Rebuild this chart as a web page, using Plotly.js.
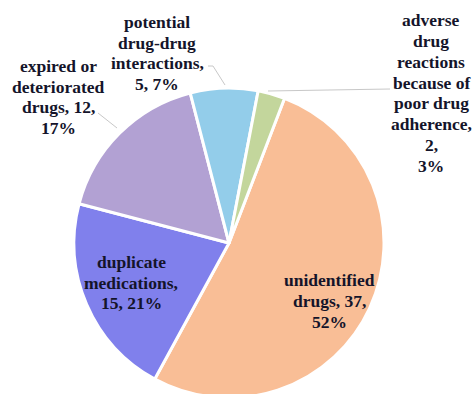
<!DOCTYPE html>
<html>
<head>
<meta charset="utf-8">
<script src="https://cdn.plot.ly/plotly-3.0.1.min.js"></script>
<style>
html,body{margin:0;padding:0;background:#fff;overflow:hidden;}
#chart{width:475px;height:402px;}
</style>
</head>
<body>
<div id="chart"></div>
<script>
// Data
const categories = ["unidentified drugs", "duplicate medications", "expired or deteriorated drugs", "potential drug-drug interactions", "adverse drug reactions because of poor drug adherence"];
const counts = [37, 15, 12, 5, 2];
// label line layout (VAL = count, PCT = percent)
const labelLines = [
  ["unidentified", "drugs, VAL,", "PCT"],
  ["duplicate", "medications,", "VAL, PCT"],
  ["expired or", "deteriorated", "drugs, VAL,", "PCT"],
  ["potential", "drug-drug", "interactions,", "VAL, PCT"],
  ["adverse", "drug", "reactions", "because of", "poor drug", "adherence,", "VAL,", "PCT"]
];
const colors = ["#F9BE96", "#8080EC", "#B2A1D3", "#93CDEA", "#C3D69C"];

const W = 475, H = 402;
const total = counts.reduce((a, b) => a + b, 0);
const fx = x => x / W;
const fy = y => 1 - y / H;

const font = {family: "Liberation Serif, Times New Roman, serif", size: 17.5, color: "#14142A", weight: "bold"};
const lineGap = 20.8;

// label placements (pixel layout: block centers)
const labelPos = [[329, 301], [131, 282.5], [58, 97], [157, 53], [431, 93]];
const leaders = [
  [98, 113, 117, 128],
  [208, 66, 213, 66],
  [213, 66, 225, 85],
  [268, 91, 390, 89]
];

const annotations = [];
categories.forEach((c, i) => {
  const pct = Math.round(counts[i] / total * 100) + "%";
  const lines = labelLines[i];
  const n = lines.length;
  lines.forEach((s, k) => {
    annotations.push({
      xref: "paper", yref: "paper",
      x: fx(labelPos[i][0]), y: fy(labelPos[i][1] + (k - (n - 1) / 2) * lineGap),
      xanchor: "center", yanchor: "middle",
      text: "<b>" + s.replace("VAL", counts[i]).replace("PCT", pct) + "</b>",
      showarrow: false, align: "center", font: font
    });
  });
});

const shapes = leaders.map(l => ({
  type: "line", xref: "paper", yref: "paper",
  x0: fx(l[0]), y0: fy(l[1]), x1: fx(l[2]), y1: fy(l[3]),
  line: {color: "#C8C8C8", width: 1}
}));

const trace = {
  type: "pie",
  labels: categories,
  values: counts,
  sort: false,
  direction: "clockwise",
  rotation: 21,
  marker: {colors: colors, line: {color: "#FFFFFF", width: 3}},
  textinfo: "none",
  hoverinfo: "none",
  showlegend: false,
  domain: {x: [fx(229 - 155), fx(229 + 155)], y: [fy(243 + 155), fy(243 - 155)]}
};

const layout = {
  width: W, height: H,
  margin: {l: 0, r: 0, t: 0, b: 0},
  paper_bgcolor: "#FFFFFF",
  showlegend: false,
  annotations: annotations,
  shapes: shapes
};

Plotly.newPlot("chart", [trace], layout, {displayModeBar: false, staticPlot: true});
</script>
</body>
</html>
